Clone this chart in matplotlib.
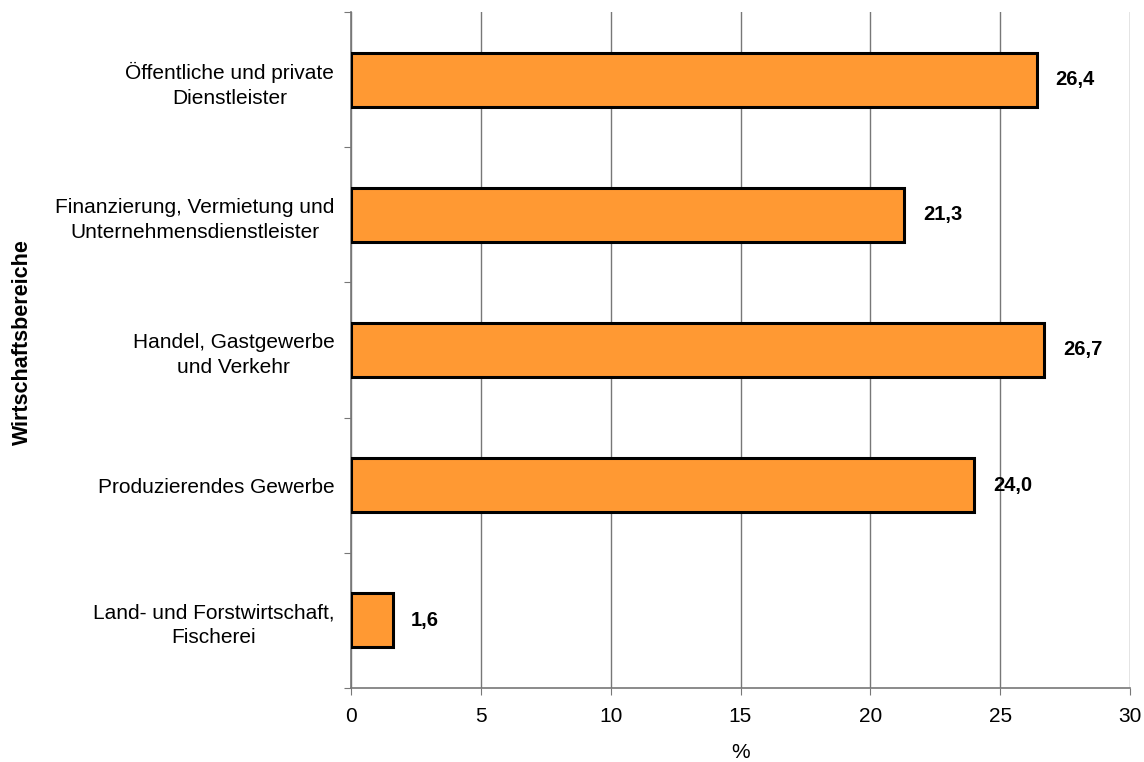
import matplotlib
matplotlib.use('Agg')
import matplotlib.pyplot as plt
import numpy as np

plt.rcParams['font.family'] = ['Liberation Sans', 'DejaVu Sans']

bereiche = [
    'Land- und Forstwirtschaft,\nFischerei',
    'Produzierendes Gewerbe',
    'Handel, Gastgewerbe\nund Verkehr',
    'Finanzierung, Vermietung und\nUnternehmensdienstleister',
    'Öffentliche und private\nDienstleister',
]
anteile = [1.6, 24.0, 26.7, 21.3, 26.4]
x_ticks = [0, 5, 10, 15, 20, 25, 30]

fig = plt.figure(figsize=(11.44, 7.62), dpi=100)
ax = fig.add_axes([351 / 1144, 1 - 688 / 762, (1130 - 351) / 1144, (688 - 12) / 762])

pos = np.arange(len(bereiche))
ax.barh(pos, anteile, height=0.4, color='#FF9933', edgecolor='black',
        linewidth=2.2, zorder=3)

for p, v in zip(pos, anteile):
    ax.text(v + 0.72, p, f'{v:.1f}'.replace('.', ','), va='center', ha='left',
            fontsize=14.5, fontweight='bold')

ax.set_xlim(0, 30)
ax.set_ylim(-0.5, len(bereiche) - 0.5)
ax.set_xticks(x_ticks)
ax.tick_params(axis='x', labelsize=15, length=5, color='#777777', pad=9)
ax.xaxis.grid(True, color='#777777', linewidth=1, zorder=0)

# boundary ticks without labels, labels at centres without tick marks
ax.set_yticks(np.arange(len(bereiche) + 1) - 0.5)
ax.set_yticklabels([])
ax.tick_params(axis='y', which='major', length=5, color='#777777')
ax.set_yticks(pos, minor=True)
ax.set_yticklabels(bereiche, minor=True, fontsize=15, multialignment='center',
                   linespacing=1.4)
ax.tick_params(axis='y', which='minor', length=0, pad=12)

for s in ['top', 'right']:
    ax.spines[s].set_visible(False)
for s in ['left', 'bottom']:
    ax.spines[s].set_color('#777777')
    ax.spines[s].set_linewidth(1.2)

ax.set_xlabel('%', fontsize=15, labelpad=12)
fig.text(22 / 1144, 1 - 342 / 762, 'Wirtschaftsbereiche', rotation=90,
         fontsize=15.5, fontweight='bold', ha='center', va='center')

fig.savefig('out.png', dpi=100)
